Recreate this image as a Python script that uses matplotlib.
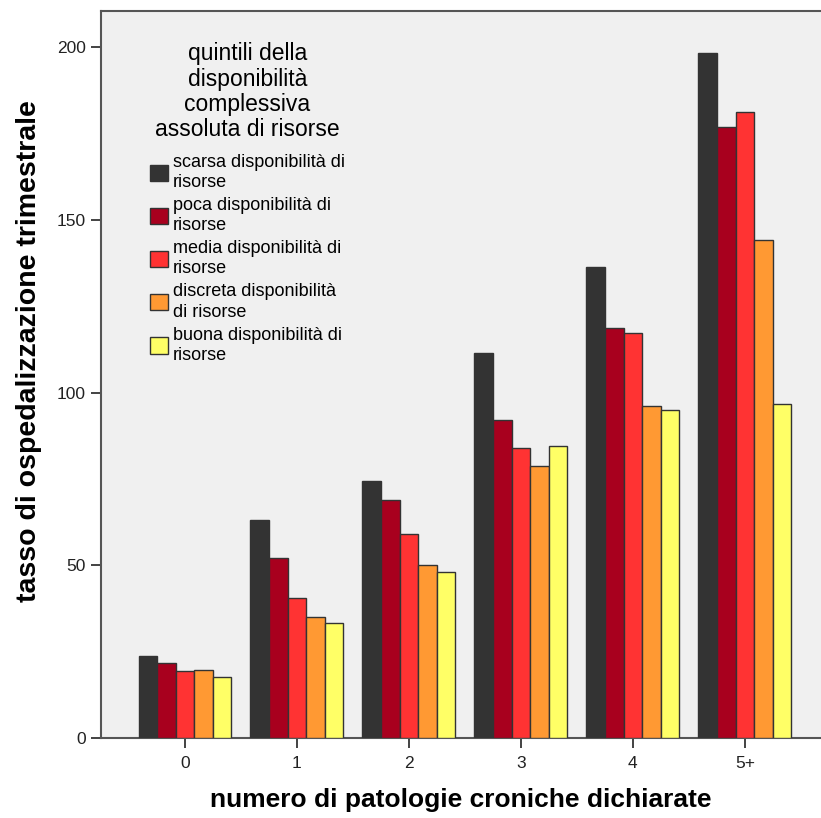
import matplotlib
matplotlib.use("Agg")
import matplotlib.pyplot as plt
import numpy as np

categories = ["0", "1", "2", "3", "4", "5+"]
series_names = [
    "scarsa disponibilità di\nrisorse",
    "poca disponibilità di\nrisorse",
    "media disponibilità di\nrisorse",
    "discreta disponibilità\ndi risorse",
    "buona disponibilità di\nrisorse",
]
scarsa = [23.8, 63.2, 74.5, 111.6, 136.3, 198.2]
poca = [21.8, 52.2, 69.0, 92.2, 118.6, 176.9]
media = [19.5, 40.6, 59.0, 84.0, 117.3, 181.3]
discreta = [19.8, 35.0, 50.0, 78.8, 96.2, 144.3]
buona = [17.8, 33.3, 48.0, 84.6, 94.9, 96.8]
yticks = [0, 50, 100, 150, 200]
colors = ["#333333", "#a8001e", "#ff3333", "#ff9933", "#ffff66"]

plt.rcParams["font.family"] = ["Liberation Sans", "DejaVu Sans"]

fig = plt.figure(figsize=(8.21, 8.18), dpi=100)
ax = fig.add_axes([101/821, 80/818, 1 - 101/821, 727/818])
ax.set_facecolor("#f0f0f0")

data = [scarsa, poca, media, discreta, buona]
x = np.arange(len(categories))
w = 0.166
for i, (vals, c, name) in enumerate(zip(data, colors, series_names)):
    ax.bar(x + (i - 2) * w, vals, width=w, color=c, edgecolor="#333333",
           linewidth=1.0, label=name, zorder=3)

ax.set_xlim(-0.75, 5.68)
ax.set_ylim(0, 210.5)
ax.set_yticks(yticks)
ax.set_xticks(x)
ax.set_xticklabels(categories)
ax.tick_params(axis="both", direction="out", length=7, width=1.2, colors="#222222",
               labelsize=12.5, labelcolor="#222222")
ax.tick_params(axis="y", pad=4)
ax.tick_params(axis="x", pad=6)
for s in ["left", "bottom", "top"]:
    ax.spines[s].set_color("#555555")
    ax.spines[s].set_linewidth(1.5)
ax.spines["right"].set_visible(False)

ax.set_ylabel("tasso di ospedalizzazione trimestrale", fontsize=20.5, fontweight="bold")
ax.yaxis.set_label_coords(-0.082, 0.532)
ax.set_xlabel("numero di patologie croniche dichiarate", fontsize=19, fontweight="bold",
              labelpad=12)

leg = ax.legend(title="quintili della\ndisponibilità\ncomplessiva\nassoluta di risorse",
                loc="upper left", bbox_to_anchor=(0.068, 0.957), frameon=False,
                fontsize=13, title_fontsize=16.5, handlelength=1.0, handleheight=1.0,
                handletextpad=0.25, labelspacing=0.33, borderaxespad=0.0,
                borderpad=0.0)
leg._legend_box.align = "center"
leg._legend_box.sep = 9
for t in leg.get_texts():
    t.set_linespacing(1.25)
leg.get_title().set_multialignment("center")
leg.get_title().set_linespacing(1.13)

fig.savefig("out.png", dpi=100, facecolor="white")
